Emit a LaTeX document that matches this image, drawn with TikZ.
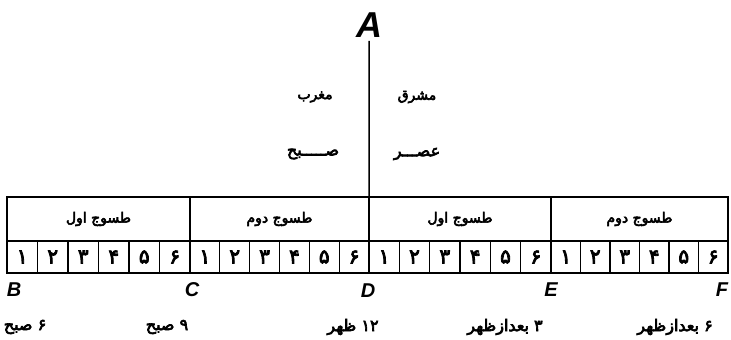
\documentclass[tikz,border=0pt]{standalone}
\usepackage{fontspec}
\setmainfont{Liberation Sans}
\newfontfamily\arabicfont[Script=Arabic, FakeBold=4]{DejaVu Sans}
\TeXXeTstate=1
\usetikzlibrary{positioning}

\begin{document}
\begin{tikzpicture}[x=1pt,y=-1pt,
  fa/.style={font=\arabicfont\fontsize{14}{16}\selectfont},
  faw/.style={font=\arabicfont\fontsize{16}{18}\selectfont},
  pt/.style={font=\bfseries\itshape\fontsize{20}{22}\selectfont},
  secbox/.style={draw, line width=1.2pt, minimum height=44pt, inner sep=0pt, outer sep=0pt, fa},
  cellbox/.style={draw, line width=1.2pt, minimum height=32pt, inner sep=0pt, outer sep=0pt,
    font=\arabicfont\fontsize{20}{22}\selectfont}]
\useasboundingbox (0,0) rectangle (731,340);
\foreach \s/\xa/\xb/\lbl in {1/7/190/{طسوج اول},2/190/369/{طسوج دوم},3/369/551/{طسوج اول},4/551/728/{طسوج دوم}}{
  \pgfmathsetmacro{\w}{(\xb-\xa)/6}
  \node[secbox, minimum width={\xb-\xa}] (sec\s) at ({(\xa+\xb)/2},219) {\beginR\lbl\endR};
  \foreach \d [count=\i] in {۱,۲,۳,۴,۵,۶}
    \node[cellbox, minimum width=\w] (c\s-\i) at ({\xa+(\i-0.5)*\w},257) {\d};
}
\draw[line width=2pt] (sec1.north west) rectangle (c4-6.south east);
\node[pt, font=\bfseries\itshape\fontsize{36}{38}\selectfont] (A) at (369,25) {A};
\draw[line width=1.5pt] (A.south) -- (c2-6.south east);
\node[pt] (B) at (14,290) {B};
\node[pt] (C) at (192,290) {C};
\node[pt] (D) at (368,291) {D};
\node[pt] (E) at (551,290) {E};
\node[pt] (F) at (722,290) {F};
\node[fa] (west) at (315,97) {\beginR مغرب\endR};
\node[fa] (east) at (417,97) {\beginR مشرق\endR};
\node[faw] (morning) at (313,154) {\beginR صـــــبح\endR};
\node[faw] (asr) at (417,154) {\beginR عصـــر\endR};
\node[faw] (tB) at (25,327) {\beginR ۶ صبح\endR};
\node[faw] (tC) at (167,327) {\beginR ۹ صبح\endR};
\node[faw] (tD) at (353,327) {\beginR\beginL ۱۲\endL{} ظهر\endR};
\node[faw] (tE) at (505,327) {\beginR ۳ بعدازظهر\endR};
\node[faw] (tF) at (675,327) {\beginR ۶ بعدازظهر\endR};
\end{tikzpicture}
\end{document}
